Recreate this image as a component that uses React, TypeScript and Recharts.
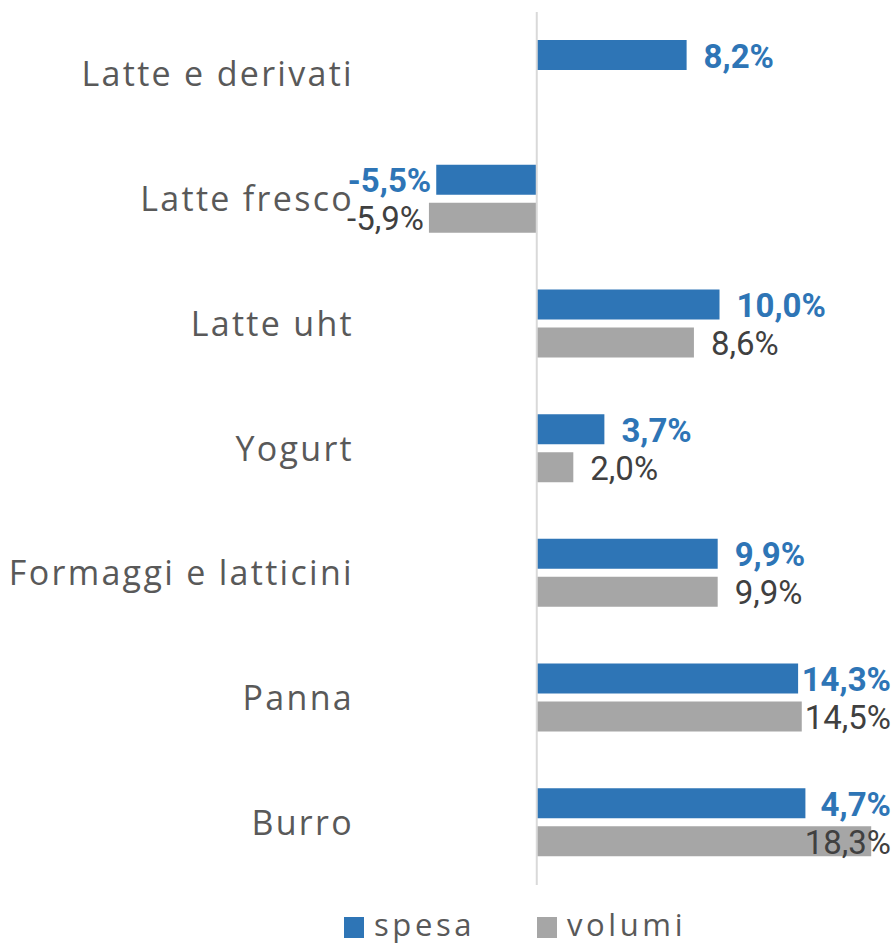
import React from "react";
import { BarChart, Bar, XAxis, YAxis, ReferenceLine, LabelList, Legend } from "recharts";

const categories = ["Latte e derivati", "Latte fresco", "Latte uht", "Yogurt", "Formaggi e latticini", "Panna", "Burro"];
const spesa = [8.2, -5.5, 10.0, 3.7, 9.9, 14.3, 14.7];
const volumi: (number | null)[] = [null, -5.9, 8.6, 2.0, 9.9, 14.5, 18.3];
const spesaLabels = ["8,2%", "-5,5%", "10,0%", "3,7%", "9,9%", "14,3%", "4,7%"];
const seriesNames = ["spesa", "volumi"];

const BLUE = "#2E75B6";
const GRAY = "#A6A6A6";
const CAT_FONT = "'Open Sans', sans-serif";
const LABEL_FONT = "Roboto, sans-serif";

const data = categories.map((name, i) => ({
  name,
  spesa: spesa[i],
  volumi: volumi[i],
  spesaLabel: spesaLabels[i],
}));

const fmt = (v: number) => `${v.toFixed(1).replace(".", ",")}%`;

const CHART_W = 887;
const CHART_H = 939;
const RIGHT_LIMIT = 883;
const FS = 33;

const renderText = (text: string, value: number, props: any, color: string, weight: number) => {
  const { x, y, width, height } = props;
  const left = Math.min(x, x + width);
  const right = Math.max(x, x + width);
  const cy = y + height / 2 + 1;
  const est = text.length * 0.55 * FS;
  let tx: number;
  let anchor: "start" | "end";
  if (value >= 0) {
    tx = right + 17;
    anchor = "start";
    if (tx + est > RIGHT_LIMIT) {
      tx = RIGHT_LIMIT;
      anchor = "end";
    }
  } else {
    tx = left - 5;
    anchor = "end";
  }
  return (
    <text
      x={tx}
      y={cy}
      textAnchor={anchor}
      dominantBaseline="central"
      fill={color}
      fontFamily={LABEL_FONT}
      fontSize={FS}
      fontWeight={weight}
    >
      {text}
    </text>
  );
};

const spesaLabel = (props: any) => {
  const v = props.value;
  if (v == null) return null;
  const idx = spesa.indexOf(Number(v));
  const text = idx >= 0 ? spesaLabels[idx] : fmt(Number(v));
  return renderText(text, Number(v), props, BLUE, 700);
};

const volumiLabel = (props: any) => {
  const v = props.value;
  if (v == null || v === "") return null;
  return renderText(fmt(Number(v)), Number(v), props, "#404040", 400);
};

const LegendContent = () => (
  <div style={{ position: "relative", width: CHART_W, height: 60, fontFamily: CAT_FONT, color: "#595959" }}>
    {seriesNames.map((n, i) => (
      <div
        key={n}
        style={{
          position: "absolute",
          left: i === 0 ? 336 : 529,
          top: 24,
          display: "flex",
          alignItems: "center",
          fontSize: 31,
          lineHeight: "30px",
          letterSpacing: "3.6px",
        }}
      >
        <span style={{ display: "inline-block", width: 20, height: 21, background: i === 0 ? BLUE : GRAY, marginRight: 10, marginTop: 6 }} />
        <span>{n}</span>
      </div>
    ))}
  </div>
);

export default function App() {
  return (
    <div style={{ width: 895, height: 947, paddingLeft: 8, paddingTop: 8, boxSizing: "border-box", overflow: "hidden", background: "#fff" }}>
      <style>{"body{margin:0}"}</style>
      <BarChart
        width={CHART_W}
        height={CHART_H}
        data={data}
        layout="vertical"
        margin={{ top: 4, right: 11, bottom: 2, left: 0 }}
        barSize={30}
        barGap={8}
      >
        <XAxis type="number" domain={[-10, 19]} hide allowDataOverflow />
        <YAxis
          type="category"
          dataKey="name"
          width={346}
          tickLine={false}
          axisLine={false}
          tickSize={0}
          tickMargin={0}
          tick={{ fill: "#595959", fontSize: 34, fontFamily: CAT_FONT, letterSpacing: "2.3px" }}
          interval={0}
        />
        <ReferenceLine x={0} stroke="#D9D9D9" strokeWidth={2} ifOverflow="extendDomain" />
        <Bar dataKey="spesa" fill={BLUE} isAnimationActive={false}>
          <LabelList dataKey="spesa" content={spesaLabel} />
        </Bar>
        <Bar dataKey="volumi" fill={GRAY} isAnimationActive={false}>
          <LabelList dataKey="volumi" content={volumiLabel} />
        </Bar>
        <Legend verticalAlign="bottom" height={60} wrapperStyle={{ left: 0, width: CHART_W }} content={<LegendContent />} />
      </BarChart>
    </div>
  );
}
